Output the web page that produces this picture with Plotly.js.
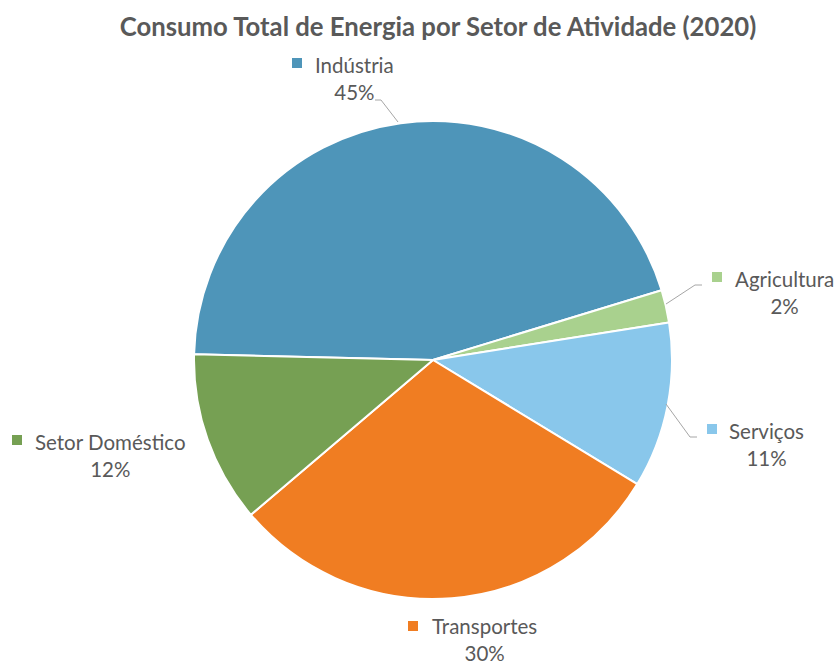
<!DOCTYPE html>
<html>
<head>
<meta charset="utf-8">
<script src="https://cdn.plot.ly/plotly-3.0.1.min.js"></script>
<style>html,body{margin:0;padding:0;background:#fff;}#chart{width:839px;height:664px;}</style>
</head>
<body>
<div id="chart"></div>
<script>
// Data
const sectors = ["Indústria", "Agricultura", "Serviços", "Transportes", "Setor Doméstico"];
const shares = [44.9, 2.2, 11.2, 30.1, 11.6];
const sliceColors = ["#4e95b9", "#a9d18e", "#89c7eb", "#f07d22", "#76a053"];

// Layout geometry (pixels)
const W = 839, H = 664;
const M = {l: 194, r: 167, t: 121, b: 65};
const PW = W - M.l - M.r, PH = H - M.t - M.b;
const px = x => (x - M.l) / PW;
const py = y => (H - M.b - y) / PH;

// label placement (pixel centres of the label text block, marker square, leader line points)
const labelPos = [
  {tx: 354, ty: 78, sq: [297, 63], line: [[375, 100], [381, 100], [398, 122]]},
  {tx: 784, ty: 292, sq: [717, 277], line: [[702, 285], [695, 285], [666, 304]]},
  {tx: 766, ty: 444, sq: [712, 429], line: [[697, 437], [690, 437], [666, 404]]},
  {tx: 484, ty: 639, sq: [413, 626], line: null},
  {tx: 110, ty: 455, sq: [17, 440], line: null}
];

const total = shares.reduce((a, b) => a + b, 0);
const annotations = [];
const shapes = [];
const labelFont = {family: "Lato, 'Open Sans', sans-serif", size: 20.5, color: "#595959"};
sectors.forEach((name, i) => {
  const p = labelPos[i];
  const pct = Math.round(shares[i] / total * 100) + "%";
  annotations.push({
    xref: "paper", yref: "paper", x: px(p.tx), y: py(p.ty),
    xanchor: "center", yanchor: "middle", showarrow: false,
    text: name + "<br>" + pct, align: "center", font: labelFont
  });
  const s = 5;
  shapes.push({
    type: "rect", xref: "paper", yref: "paper",
    x0: px(p.sq[0] - s), x1: px(p.sq[0] + s), y0: py(p.sq[1] - s), y1: py(p.sq[1] + s),
    fillcolor: sliceColors[i], line: {width: 0}
  });
  if (p.line) {
    const path = p.line.map((pt, k) => (k ? "L" : "M") + px(pt[0]) + "," + py(pt[1])).join(" ");
    shapes.push({type: "path", xref: "paper", yref: "paper", path: path,
      line: {color: "#a6a6a6", width: 1}});
  }
});

const trace = {
  type: "pie",
  labels: sectors,
  values: shares,
  sort: false,
  direction: "clockwise",
  rotation: -88.6,
  marker: {colors: sliceColors, line: {color: "#ffffff", width: 2}},
  textinfo: "none",
  hoverinfo: "label+percent",
  showlegend: false
};

const layout = {
  width: W, height: H,
  margin: M,
  paper_bgcolor: "#ffffff",
  title: {
    text: "Consumo Total de Energia por Setor de Atividade (2020)",
    font: {family: "Lato, 'Open Sans', sans-serif", size: 25.7, color: "#595959", weight: "bold"},
    x: 438 / W, xref: "container", xanchor: "center",
    y: 1 - 27 / H, yref: "container", yanchor: "middle"
  },
  showlegend: false,
  annotations: annotations,
  shapes: shapes
};

Plotly.newPlot("chart", [trace], layout, {displayModeBar: false, staticPlot: true});
</script>
</body>
</html>
